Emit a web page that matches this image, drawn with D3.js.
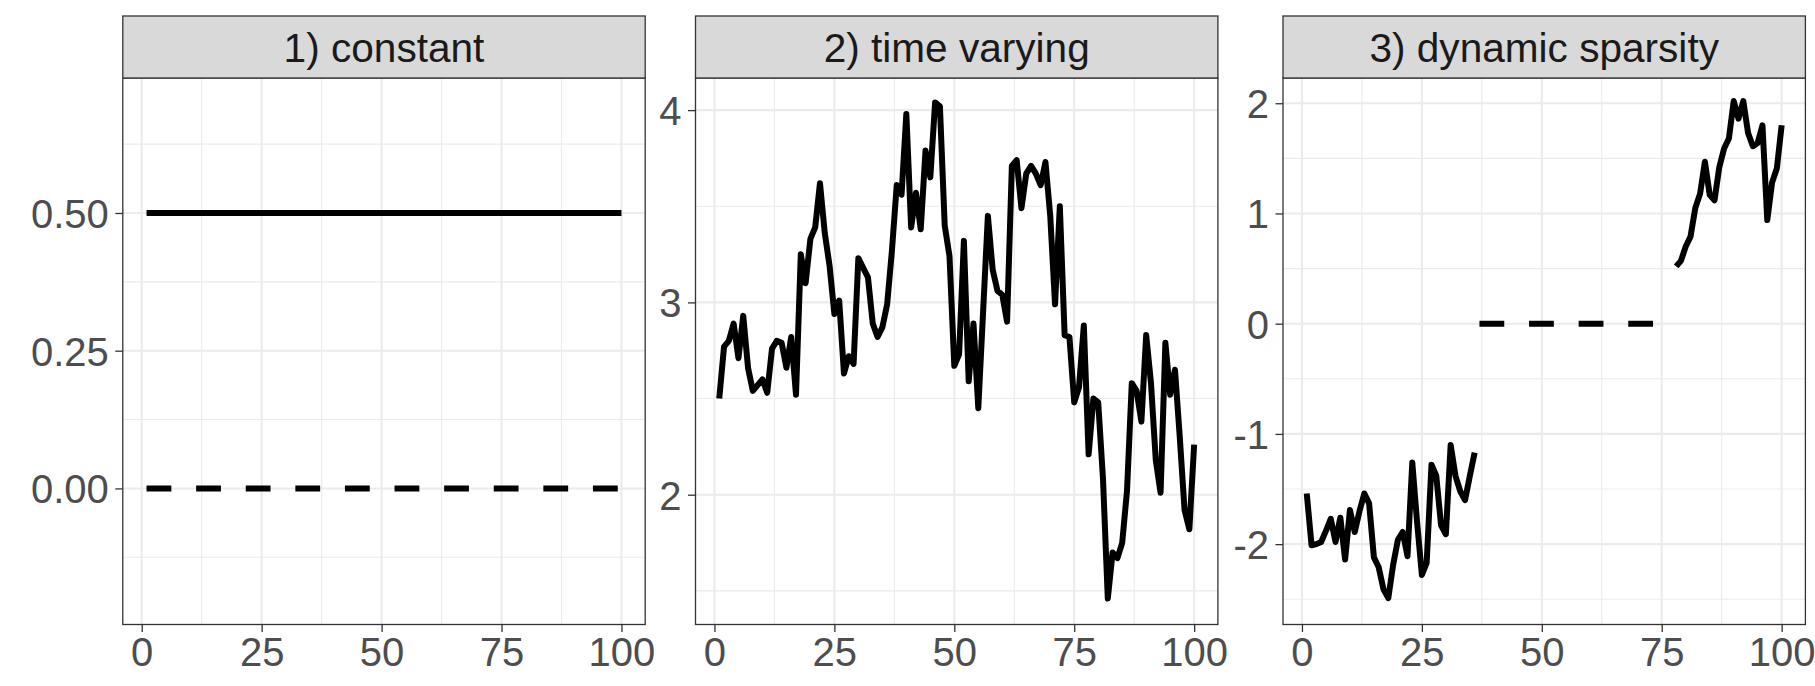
<!DOCTYPE html>
<html><head><meta charset="utf-8">
<script src="https://cdn.jsdelivr.net/npm/d3@7"></script>
<style>
body{margin:0;background:#fff}
text{font-family:"Liberation Sans",Arial,sans-serif}
</style>
</head><body>
<svg id="chart" width="1815" height="686"></svg>
<script>
// ---------- data ----------
const panelTitles = ["1) constant", "2) time varying", "3) dynamic sparsity"];
const timeIndex = d3.range(1, 101);
const xTicks = [0, 25, 50, 75, 100];
const xMinorTicks = [12.5, 37.5, 62.5, 87.5];

const constantLevel = 0.5;
const zeroLevel = 0;

const timeVarying = [
  2.50, 2.77, 2.80, 2.89, 2.71, 2.93, 2.66, 2.54, 2.57, 2.60,
  2.53, 2.76, 2.80, 2.79, 2.66, 2.82, 2.52, 3.25, 3.10, 3.33,
  3.39, 3.62, 3.36, 3.19, 2.94, 3.01, 2.63, 2.72, 2.68, 3.23,
  3.18, 3.13, 2.89, 2.82, 2.87, 2.99, 3.27, 3.61, 3.56, 3.98,
  3.39, 3.57, 3.38, 3.79, 3.65, 4.04, 4.02, 3.40, 3.24, 2.67,
  2.73, 3.32, 2.59, 2.89, 2.45, 2.95, 3.45, 3.17, 3.06, 3.04,
  2.90, 3.71, 3.74, 3.49, 3.67, 3.71, 3.67, 3.61, 3.73, 3.45,
  2.99, 3.50, 2.83, 2.82, 2.48, 2.56, 2.88, 2.21, 2.50, 2.48,
  2.08, 1.46, 1.70, 1.67, 1.75, 2.02, 2.58, 2.54, 2.38, 2.83,
  2.58, 2.18, 2.01, 2.79, 2.52, 2.65, 2.30, 1.92, 1.82, 2.26
];

const dynamicSparsity = [
  -1.54, -2.01, -2.00, -1.98, -1.88, -1.77, -1.98, -1.76, -2.14, -1.69,
  -1.89, -1.70, -1.54, -1.63, -2.12, -2.21, -2.41, -2.49, -2.19, -1.96,
  -1.89, -2.11, -1.26, -1.80, -2.28, -2.17, -1.28, -1.38, -1.83, -1.91,
  -1.10, -1.38, -1.52, -1.60, -1.38, -1.17, 0, 0, 0, 0,
  0, 0, 0, 0, 0, 0, 0, 0, 0, 0,
  0, 0, 0, 0, 0, 0, 0, 0, 0, 0,
  0, 0, 0, 0, 0, 0, 0, 0, 0, 0,
  0, 0, 0, 0, 0, 0, 0, 0.52, 0.57, 0.70,
  0.79, 1.05, 1.18, 1.47, 1.17, 1.12, 1.42, 1.59, 1.68, 2.02,
  1.86, 2.02, 1.73, 1.61, 1.64, 1.80, 0.94, 1.28, 1.41, 1.80
];

const yTicks1 = [0, 0.25, 0.5];
const yTickLabels1 = ["0.00", "0.25", "0.50"];
const yMinor1 = [-0.125, 0.125, 0.375, 0.625];
const yTicks2 = [2, 3, 4];
const yTickLabels2 = ["2", "3", "4"];
const yMinor2 = [1.5, 2.5, 3.5];
const yTicks3 = [-2, -1, 0, 1, 2];
const yTickLabels3 = ["-2", "-1", "0", "1", "2"];
const yMinor3 = [-2.5, -1.5, -0.5, 0.5, 1.5];

// ---------- layout ----------
const svg = d3.select("#chart");
const stripTop = 16, plotTop = 78, plotBottom = 624.5;
const panelLefts = [122.8, 695.5, 1283];
const panelWidth = 522.4;
const xDomain = [-3.95, 104.95];
const yDomains = [[-0.247, 0.745], [1.325, 4.167], [-2.729, 2.229]];

const panels = [
  {title: panelTitles[0],
   solid: timeIndex.map(t => ({t, v: constantLevel})),
   dashed: timeIndex.map(t => ({t, v: zeroLevel})),
   ticks: yTicks1, labels: yTickLabels1, minor: yMinor1},
  {title: panelTitles[1],
   solid: timeIndex.map((t, i) => ({t, v: timeVarying[i]})),
   dashed: [],
   ticks: yTicks2, labels: yTickLabels2, minor: yMinor2},
  {title: panelTitles[2],
   solid: timeIndex.map((t, i) => ({t, v: dynamicSparsity[i]})),
   dashed: timeIndex.map((t, i) => ({t, v: dynamicSparsity[i]})).filter(d => d.v === 0),
   ticks: yTicks3, labels: yTickLabels3, minor: yMinor3, sparse: true}
];

const gridColor = "#EBEBEB", frameColor = "#333333";
const fontSize = 40;
const stripFontSize = 40.6;

panels.forEach((p, k) => {
  const left = panelLefts[k], right = left + panelWidth;
  const x = d3.scaleLinear().domain(xDomain).range([left, right]);
  const y = d3.scaleLinear().domain(yDomains[k]).range([plotBottom, plotTop]);
  const g = svg.append("g");

  g.append("rect").attr("x", left).attr("y", plotTop).attr("width", panelWidth)
    .attr("height", plotBottom - plotTop).attr("fill", "#fff");

  g.selectAll(".vminor").data(xMinorTicks).join("line")
    .attr("x1", d => x(d)).attr("x2", d => x(d)).attr("y1", plotTop).attr("y2", plotBottom)
    .attr("stroke", gridColor).attr("stroke-width", 1.1);
  g.selectAll(".hminor").data(p.minor).join("line")
    .attr("y1", d => y(d)).attr("y2", d => y(d)).attr("x1", left).attr("x2", right)
    .attr("stroke", gridColor).attr("stroke-width", 1.1);
  g.selectAll(".vmajor").data(xTicks).join("line")
    .attr("x1", d => x(d)).attr("x2", d => x(d)).attr("y1", plotTop).attr("y2", plotBottom)
    .attr("stroke", gridColor).attr("stroke-width", 2.1);
  g.selectAll(".hmajor").data(p.ticks).join("line")
    .attr("y1", d => y(d)).attr("y2", d => y(d)).attr("x1", left).attr("x2", right)
    .attr("stroke", gridColor).attr("stroke-width", 2.1);

  const solidLine = d3.line().x(d => x(d.t)).y(d => y(d.v))
    .defined(d => !p.sparse || d.v !== 0);
  g.append("path").datum(p.solid).attr("d", solidLine)
    .attr("fill", "none").attr("stroke", "#000").attr("stroke-width", 6)
    .attr("stroke-linejoin", "round").attr("stroke-linecap", "butt");
  if (p.dashed.length) {
    const dashLine = d3.line().x(d => x(d.t)).y(d => y(d.v));
    g.append("path").datum(p.dashed).attr("d", dashLine)
      .attr("fill", "none").attr("stroke", "#000").attr("stroke-width", 6)
      .attr("stroke-dasharray", "24.8,24.8").attr("stroke-linecap", "butt");
  }

  g.append("rect").attr("x", left).attr("y", plotTop).attr("width", panelWidth)
    .attr("height", plotBottom - plotTop).attr("fill", "none")
    .attr("stroke", frameColor).attr("stroke-width", 1.3);

  g.append("rect").attr("x", left).attr("y", stripTop).attr("width", panelWidth)
    .attr("height", plotTop - stripTop).attr("fill", "#D9D9D9")
    .attr("stroke", frameColor).attr("stroke-width", 1.3);
  g.append("text").attr("x", (left + right) / 2).attr("y", (stripTop + plotTop) / 2)
    .attr("dy", "0.36em").attr("text-anchor", "middle")
    .attr("font-size", stripFontSize).attr("fill", "#1A1A1A").text(p.title);

  const yAxis = d3.axisLeft(y).tickValues(p.ticks).tickFormat((d, i) => p.labels[i])
    .tickSize(7.5).tickPadding(6.5);
  const ya = g.append("g").attr("transform", `translate(${left},0)`).call(yAxis);
  ya.select(".domain").remove();
  ya.selectAll(".tick line").attr("stroke", frameColor).attr("stroke-width", 1.3);
  ya.selectAll(".tick text").attr("font-size", fontSize).attr("fill", "#4D4D4D")
    .attr("font-family", '"Liberation Sans",Arial,sans-serif').attr("dy", "0.36em");

  const xAxis = d3.axisBottom(x).tickValues(xTicks).tickSize(7.5).tickPadding(6);
  const xa = g.append("g").attr("transform", `translate(0,${plotBottom})`).call(xAxis);
  xa.select(".domain").remove();
  xa.selectAll(".tick line").attr("stroke", frameColor).attr("stroke-width", 1.3);
  xa.selectAll(".tick text").attr("font-size", fontSize).attr("fill", "#4D4D4D")
    .attr("font-family", '"Liberation Sans",Arial,sans-serif').attr("dy", "0.71em");
});
</script>
</body></html>
